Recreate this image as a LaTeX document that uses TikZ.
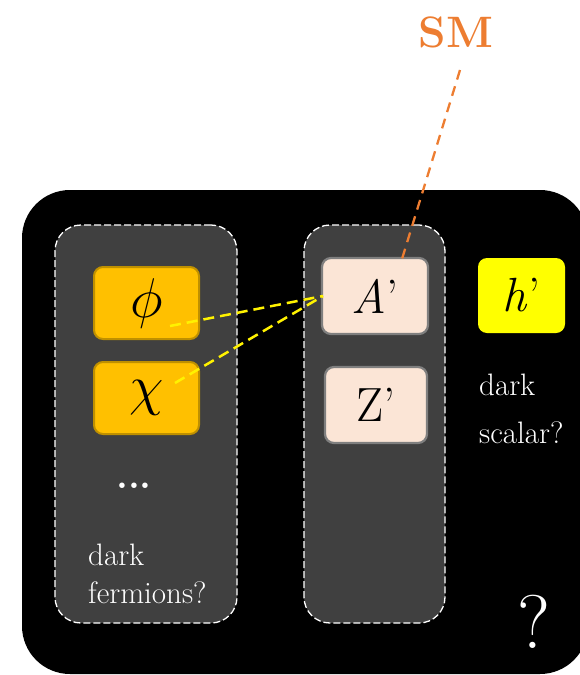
\RequirePackage{fix-cm}
\documentclass[tikz,border=0pt]{standalone}
\definecolor{gold}{HTML}{FFC000}
\definecolor{goldline}{HTML}{BF9000}
\definecolor{peach}{HTML}{FBE5D6}
\definecolor{peachline}{HTML}{7F7F7F}
\definecolor{panel}{HTML}{404040}
\definecolor{smorange}{HTML}{ED7D31}
\definecolor{hyellow}{HTML}{FFFF00}
\tikzset{
  panelbox/.style={draw=white, fill=panel, dash pattern=on 7pt off 3pt, line width=1.3pt, rounded corners=26pt, inner sep=0pt},
  fermbox/.style={draw=goldline, fill=gold, line width=2pt, rounded corners=9pt, minimum width=105pt, minimum height=72pt, inner sep=0pt, font=\fontsize{56}{56}\selectfont},
  bosbox/.style={draw=peachline, fill=peach, line width=2.2pt, rounded corners=9pt, minimum height=76pt, inner sep=0pt, font=\fontsize{48}{48}\selectfont},
  scalbox/.style={fill=hyellow, rounded corners=9pt, minimum width=87pt, minimum height=75pt, inner sep=0pt, font=\fontsize{48}{48}\selectfont},
  wlabel/.style={text=white, inner sep=0pt, anchor=base west, font=\fontsize{31}{31}\selectfont},
  yline/.style={draw=yellow, line width=2.5pt, dash pattern=on 11pt off 6pt},
  oline/.style={draw=smorange, line width=2.3pt, dash pattern=on 10pt off 7pt},
}
\begin{document}
\begin{tikzpicture}[x=1pt,y=-1pt]
\useasboundingbox (0,0) rectangle (579,675);
% outer black area
\node[fill=black, rounded corners=48pt, minimum width=566pt, minimum height=484pt, inner sep=0pt] (outer) at (305,432) {};
% panels
\node[panelbox, minimum width=182pt, minimum height=398pt] (left) at (146,424) {};
\node[panelbox, minimum width=141pt, minimum height=398pt] (mid) at (374.5,424) {};
% fermion boxes
\node[fermbox] (phi) at (146.5,303) {$\phi$};
\node[fermbox] (chi) at (146.5,398) {$\chi$};
% boson boxes
\node[bosbox, minimum width=106pt] (Ap) at (375,296) {\textit{A}\textquoteright};
\node[bosbox, minimum width=102pt] (Zp) at (376,405) {Z\textquoteright};
% dark scalar
\node[scalbox] (hp) at (521.5,295.5) {\textit{h}\textquoteright};
% labels
\node[wlabel] (dk1) at (479,395) {dark};
\node[wlabel] (sc) at (479,443) {scalar?};
\node[text=white, inner sep=0pt, anchor=base, font=\fontsize{38}{38}\selectfont\bfseries] (dots) at (134,488) {...};
\node[wlabel] (dk2) at (88,565) {dark};
\node[wlabel] (fe) at (88,603) {fermions?};
\node[text=white, inner sep=0pt, anchor=base, font=\fontsize{76}{76}\selectfont] (q) at (534,648) {?};
\node[text=smorange, inner sep=0pt, anchor=base, font=\fontsize{44}{44}\selectfont\bfseries] (sm) at (456,47) {SM};
% connector end points
\coordinate (phiend) at (170,326);
\coordinate (chiend) at (175,383);
\coordinate (Aleft) at (323,296);
\coordinate (Atop) at (402,259);
\coordinate (smend) at (460,70);
% connectors
\draw[yline] (phiend) -- (Aleft);
\draw[yline] (chiend) -- (Aleft);
\draw[oline] (smend) -- (Atop);
\end{tikzpicture}
\end{document}
